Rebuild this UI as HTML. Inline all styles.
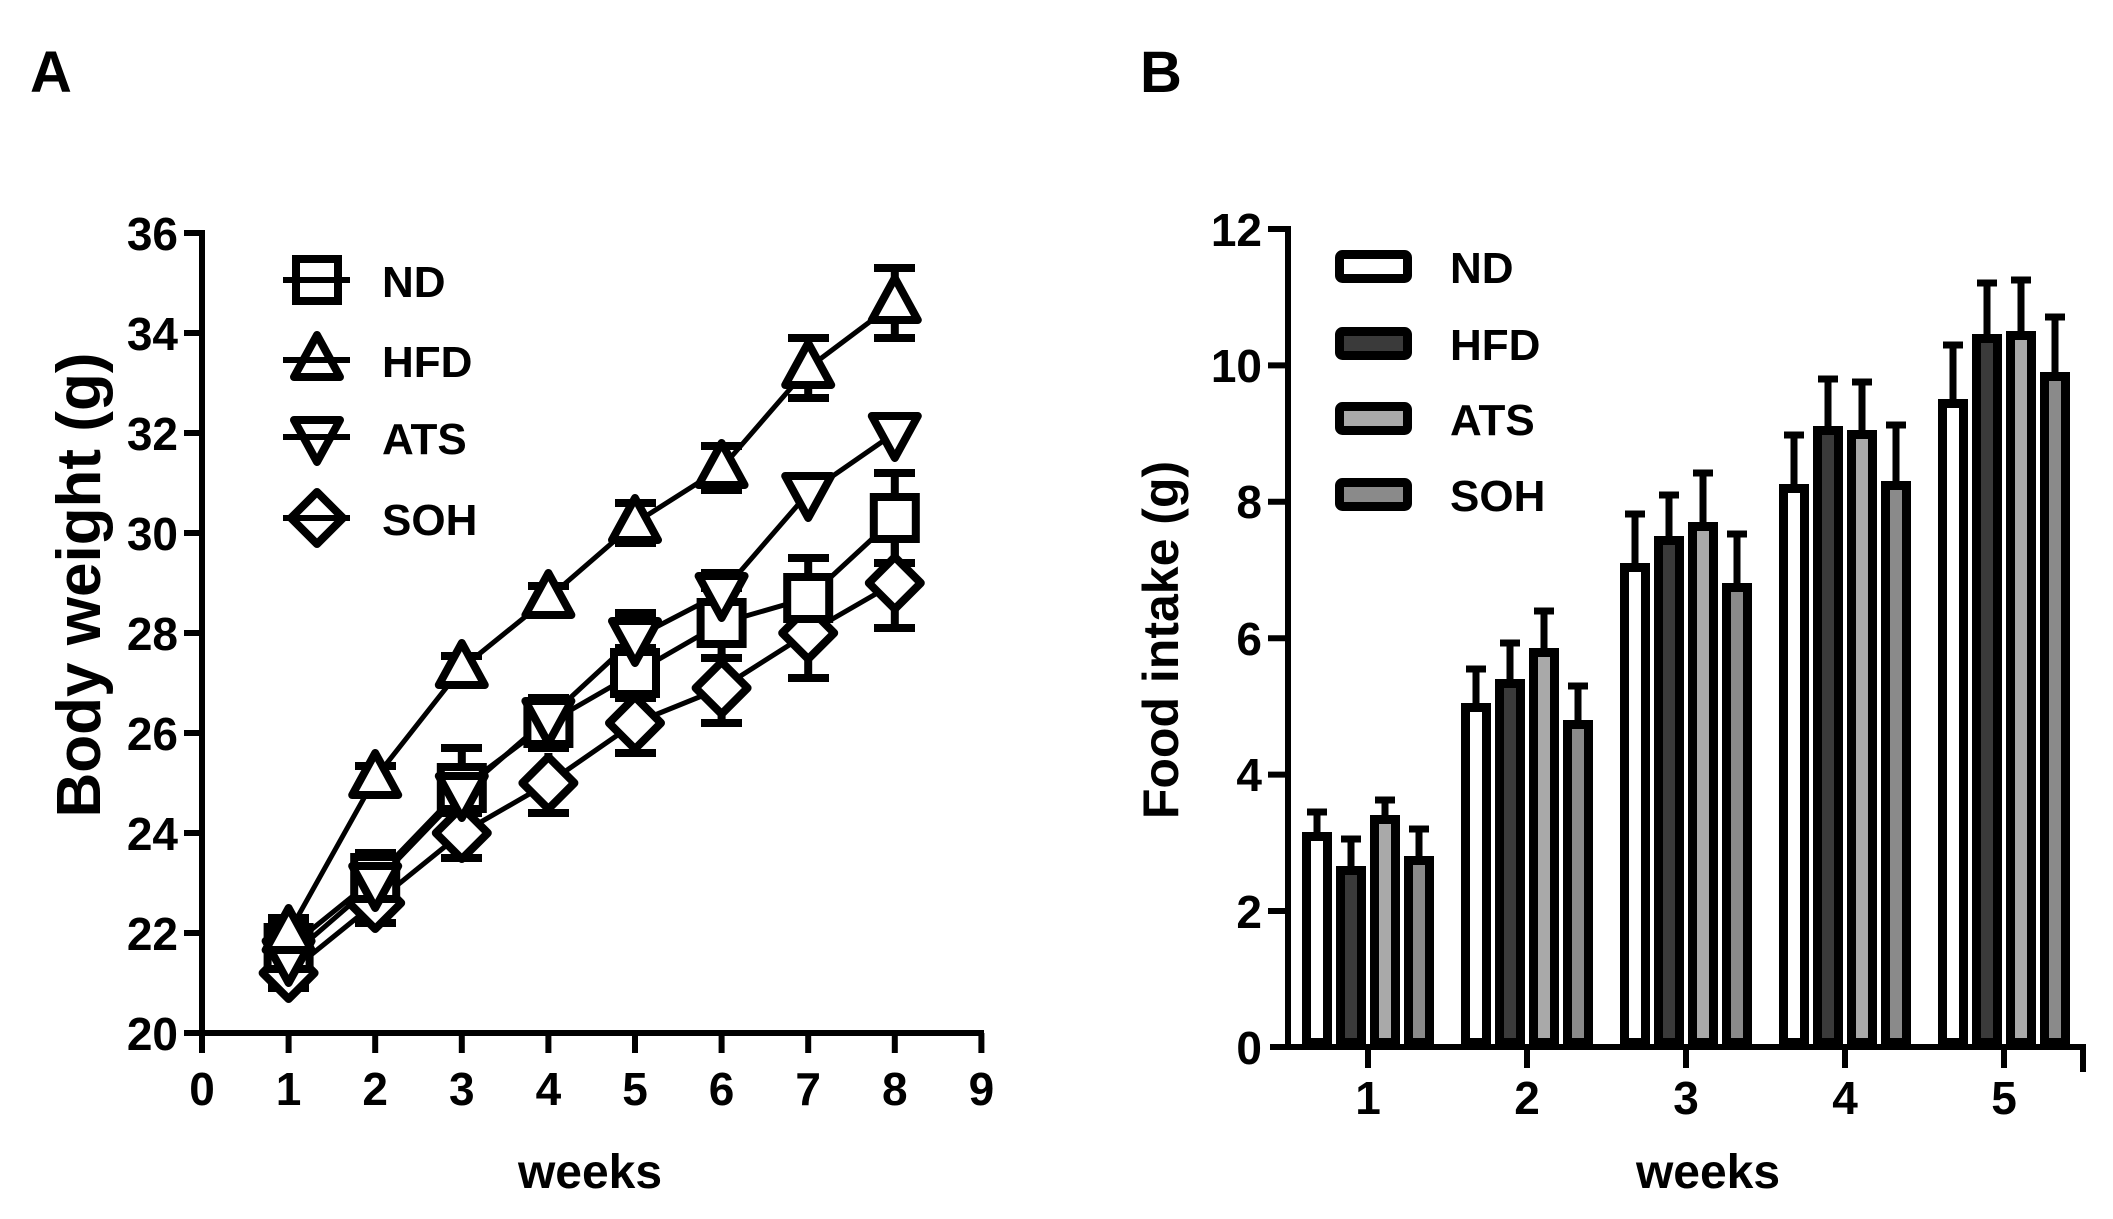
<!DOCTYPE html>
<html><head><meta charset="utf-8"><style>
html,body{margin:0;padding:0;background:#fff}
svg{display:block}
text{font-family:"Liberation Sans",Arial,sans-serif;font-weight:bold;fill:#000}
</style></head><body>
<svg width="2113" height="1219" viewBox="0 0 2113 1219" xmlns="http://www.w3.org/2000/svg">
<defs>
<rect id="sq" x="-21" y="-21" width="42" height="42" fill="#fff" stroke="#000" stroke-width="8"/>
<polygon id="tu" points="0,-25 23,17 -23,17" fill="#fff" stroke="#000" stroke-width="8" stroke-linejoin="round"/>
<polygon id="td" points="0,25 23,-17 -23,-17" fill="#fff" stroke="#000" stroke-width="8" stroke-linejoin="round"/>
<polygon id="di" points="0,-26 26,0 0,26 -26,0" fill="#fff" stroke="#000" stroke-width="8" stroke-linejoin="round"/>
</defs>

<text x="30" y="92" font-size="58">A</text>
<text x="1140" y="92" font-size="58">B</text>

<g stroke="#000" stroke-width="6" fill="none">
<line x1="202" y1="230" x2="202" y2="1036"/>
<line x1="199" y1="1033" x2="984" y2="1033"/>
<line x1="184" y1="233" x2="202" y2="233"/>
<line x1="184" y1="333" x2="202" y2="333"/>
<line x1="184" y1="433" x2="202" y2="433"/>
<line x1="184" y1="533" x2="202" y2="533"/>
<line x1="184" y1="633" x2="202" y2="633"/>
<line x1="184" y1="733" x2="202" y2="733"/>
<line x1="184" y1="833" x2="202" y2="833"/>
<line x1="184" y1="933" x2="202" y2="933"/>
<line x1="184" y1="1033" x2="202" y2="1033"/>
<line x1="202" y1="1033" x2="202" y2="1053"/>
<line x1="288.6" y1="1033" x2="288.6" y2="1053"/>
<line x1="375.2" y1="1033" x2="375.2" y2="1053"/>
<line x1="461.8" y1="1033" x2="461.8" y2="1053"/>
<line x1="548.4" y1="1033" x2="548.4" y2="1053"/>
<line x1="635" y1="1033" x2="635" y2="1053"/>
<line x1="721.6" y1="1033" x2="721.6" y2="1053"/>
<line x1="808.2" y1="1033" x2="808.2" y2="1053"/>
<line x1="894.8" y1="1033" x2="894.8" y2="1053"/>
<line x1="981.4" y1="1033" x2="981.4" y2="1053"/>
</g>
<g font-size="46" text-anchor="end">
<text x="178" y="250">36</text>
<text x="178" y="350">34</text>
<text x="178" y="450">32</text>
<text x="178" y="550">30</text>
<text x="178" y="650">28</text>
<text x="178" y="750">26</text>
<text x="178" y="850">24</text>
<text x="178" y="950">22</text>
<text x="178" y="1050">20</text>
</g>
<g font-size="46" text-anchor="middle">
<text x="202" y="1105">0</text>
<text x="288.6" y="1105">1</text>
<text x="375.2" y="1105">2</text>
<text x="461.8" y="1105">3</text>
<text x="548.4" y="1105">4</text>
<text x="635" y="1105">5</text>
<text x="721.6" y="1105">6</text>
<text x="808.2" y="1105">7</text>
<text x="894.8" y="1105">8</text>
<text x="981.4" y="1105">9</text>
</g>
<text x="590" y="1188" font-size="48" text-anchor="middle">weeks</text>
<text transform="translate(100,585) rotate(-90)" font-size="62" text-anchor="middle">Body weight (g)</text>

<g stroke="#000" stroke-width="5" fill="none">
<polyline points="288.6,948 375.2,878 461.8,788 548.4,723 635,673 721.6,623 808.2,598 894.8,518"/>
<polyline points="288.6,933 375.2,778 461.8,668 548.4,598 635,523 721.6,468 808.2,368 894.8,303"/>
<polyline points="288.6,958 375.2,883 461.8,793 548.4,718 635,638 721.6,593 808.2,493 894.8,433"/>
<polyline points="288.6,973 375.2,903 461.8,833 548.4,783 635,723 721.6,688 808.2,633 894.8,583"/>
</g>
<g stroke="#000" stroke-width="8" fill="none">
<path d="M288.6,923V973M268,923h41M268,973h41 M375.2,853V903M355,853h41M355,903h41 M461.8,748V828M441,748h41M441,828h41 M548.4,698V748M528,698h41M528,748h41 M635,648V698M615,648h41M615,698h41 M721.6,588V658M701,588h41M701,658h41 M808.2,558V638M788,558h41M788,638h41 M894.8,473V563M874,473h41M874,563h41"/>
<path d="M288.6,918V948M268,918h41 M375.2,766V790M355,766h41 M461.8,656V680M441,656h41 M548.4,586V610M528,586h41 M635,503V543M615,503h41M615,543h41 M721.6,446V490M701,446h41M701,490h41 M808.2,338V398M788,338h41M788,398h41 M894.8,268V338M874,268h41M874,338h41"/>
<path d="M288.6,943V973M268,973h41 M375.2,868V898M355,898h41 M461.8,773V813M441,813h41 M548.4,698V738M528,698h41 M635,613V663M615,613h41M615,663h41 M721.6,573V613M701,573h41 M808.2,478V508 M894.8,418V448"/>
<path d="M288.6,958V988M268,988h41 M375.2,883V923M355,923h41 M461.8,808V858M441,858h41 M548.4,753V813M528,813h41 M635,693V753M615,753h41 M721.6,653V723M701,723h41 M808.2,588V678M788,678h41 M894.8,538V628M874,628h41"/>
</g>
<g>
<use href="#di" x="288.6" y="973"/><use href="#di" x="375.2" y="903"/><use href="#di" x="461.8" y="833"/><use href="#di" x="548.4" y="783"/><use href="#di" x="635" y="723"/><use href="#di" x="721.6" y="688"/><use href="#di" x="808.2" y="633"/><use href="#di" x="894.8" y="583"/>
<use href="#sq" x="288.6" y="948"/><use href="#sq" x="375.2" y="878"/><use href="#sq" x="461.8" y="788"/><use href="#sq" x="548.4" y="723"/><use href="#sq" x="635" y="673"/><use href="#sq" x="721.6" y="623"/><use href="#sq" x="808.2" y="598"/><use href="#sq" x="894.8" y="518"/>
<use href="#td" x="288.6" y="958"/><use href="#td" x="375.2" y="883"/><use href="#td" x="461.8" y="793"/><use href="#td" x="548.4" y="718"/><use href="#td" x="635" y="638"/><use href="#td" x="721.6" y="593"/><use href="#td" x="808.2" y="493"/><use href="#td" x="894.8" y="433"/>
<use href="#tu" x="288.6" y="933"/><use href="#tu" x="375.2" y="778"/><use href="#tu" x="461.8" y="668"/><use href="#tu" x="548.4" y="598"/><use href="#tu" x="635" y="523"/><use href="#tu" x="721.6" y="468"/><use href="#tu" x="808.2" y="368"/><use href="#tu" x="894.8" y="303"/>
</g>
<use href="#sq" x="317" y="280"/>
<use href="#tu" x="317" y="360"/>
<use href="#td" x="317" y="437"/>
<use href="#di" x="317" y="518"/>
<g stroke="#000" stroke-width="6">
<line x1="283" y1="280" x2="350" y2="280"/>
<line x1="283" y1="360" x2="350" y2="360"/>
<line x1="283" y1="437" x2="350" y2="437"/>
<line x1="283" y1="518" x2="350" y2="518"/>
</g>
<g font-size="44">
<text x="382" y="297">ND</text>
<text x="382" y="377">HFD</text>
<text x="382" y="454">ATS</text>
<text x="382" y="535">SOH</text>
</g>

<g stroke="#000" stroke-width="6" fill="none">
<line x1="1288" y1="226" x2="1288" y2="1050"/>
<line x1="1270" y1="1047" x2="2086" y2="1047"/>
<line x1="1268" y1="229" x2="1288" y2="229"/>
<line x1="1268" y1="365.4" x2="1288" y2="365.4"/>
<line x1="1268" y1="501.8" x2="1288" y2="501.8"/>
<line x1="1268" y1="638.2" x2="1288" y2="638.2"/>
<line x1="1268" y1="774.6" x2="1288" y2="774.6"/>
<line x1="1268" y1="911" x2="1288" y2="911"/>
<line x1="1368" y1="1047" x2="1368" y2="1068"/>
<line x1="1527" y1="1047" x2="1527" y2="1068"/>
<line x1="1686" y1="1047" x2="1686" y2="1068"/>
<line x1="1845" y1="1047" x2="1845" y2="1068"/>
<line x1="2004" y1="1047" x2="2004" y2="1068"/>
<line x1="2083" y1="1047" x2="2083" y2="1072"/>
</g>
<g font-size="46" text-anchor="end">
<text x="1262" y="246">12</text>
<text x="1262" y="382">10</text>
<text x="1262" y="518">8</text>
<text x="1262" y="655">6</text>
<text x="1262" y="791">4</text>
<text x="1262" y="928">2</text>
<text x="1262" y="1064">0</text>
</g>
<g font-size="46" text-anchor="middle">
<text x="1368" y="1114">1</text>
<text x="1527" y="1114">2</text>
<text x="1686" y="1114">3</text>
<text x="1845" y="1114">4</text>
<text x="2004" y="1114">5</text>
</g>
<text x="1708" y="1188" font-size="48" text-anchor="middle">weeks</text>
<text transform="translate(1178,640) rotate(-90)" font-size="50" text-anchor="middle">Food intake (g)</text>

<g stroke="#000" stroke-width="7">
<path d="M1317,832V812M1307,812h20 M1351,866V839M1341,839h20 M1385,815V800M1375,800h20 M1419,856V829M1409,829h20
M1476,703V669M1466,669h20 M1510,679V643M1500,643h20 M1544,648V611M1534,611h20 M1578,720V686M1568,686h20
M1635,563V514M1625,514h20 M1669,536V495M1659,495h20 M1703,522V473M1693,473h20 M1737,583V534M1727,534h20
M1794,484V435M1784,435h20 M1828,426V379M1818,379h20 M1862,430V382M1852,382h20 M1896,481V425M1886,425h20
M1953,399V345M1943,345h20 M1987,334V283M1977,283h20 M2021,331V280M2011,280h20 M2055,372V317M2045,317h20"/>
</g>
<g stroke="#000" stroke-width="9">
<rect x="1306.5" y="836.5" width="21" height="206" fill="#fff"/>
<rect x="1340.5" y="870.5" width="21" height="172" fill="#3a3a3a"/>
<rect x="1374.5" y="819.5" width="21" height="223" fill="#a9a9a9"/>
<rect x="1408.5" y="860.5" width="21" height="182" fill="#8a8a8a"/>
<rect x="1465.5" y="707.5" width="21" height="335" fill="#fff"/>
<rect x="1499.5" y="683.5" width="21" height="359" fill="#3a3a3a"/>
<rect x="1533.5" y="652.5" width="21" height="390" fill="#a9a9a9"/>
<rect x="1567.5" y="724.5" width="21" height="318" fill="#8a8a8a"/>
<rect x="1624.5" y="567.5" width="21" height="475" fill="#fff"/>
<rect x="1658.5" y="540.5" width="21" height="502" fill="#3a3a3a"/>
<rect x="1692.5" y="526.5" width="21" height="516" fill="#a9a9a9"/>
<rect x="1726.5" y="587.5" width="21" height="455" fill="#8a8a8a"/>
<rect x="1783.5" y="488.5" width="21" height="554" fill="#fff"/>
<rect x="1817.5" y="430.5" width="21" height="612" fill="#3a3a3a"/>
<rect x="1851.5" y="434.5" width="21" height="608" fill="#a9a9a9"/>
<rect x="1885.5" y="485.5" width="21" height="557" fill="#8a8a8a"/>
<rect x="1942.5" y="403.5" width="21" height="639" fill="#fff"/>
<rect x="1976.5" y="338.5" width="21" height="704" fill="#3a3a3a"/>
<rect x="2010.5" y="335.5" width="21" height="707" fill="#a9a9a9"/>
<rect x="2044.5" y="376.5" width="21" height="666" fill="#8a8a8a"/>
</g>
<g stroke="#000" stroke-width="9">
<rect x="1339.5" y="254.5" width="68" height="24" rx="3" fill="#fff"/>
<rect x="1339.5" y="331.5" width="68" height="24" rx="3" fill="#3a3a3a"/>
<rect x="1339.5" y="406.5" width="68" height="24" rx="3" fill="#a9a9a9"/>
<rect x="1339.5" y="482.5" width="68" height="24" rx="3" fill="#8a8a8a"/>
</g>
<g font-size="44">
<text x="1450" y="283">ND</text>
<text x="1450" y="360">HFD</text>
<text x="1450" y="435">ATS</text>
<text x="1450" y="511">SOH</text>
</g>
</svg>
</body></html>
